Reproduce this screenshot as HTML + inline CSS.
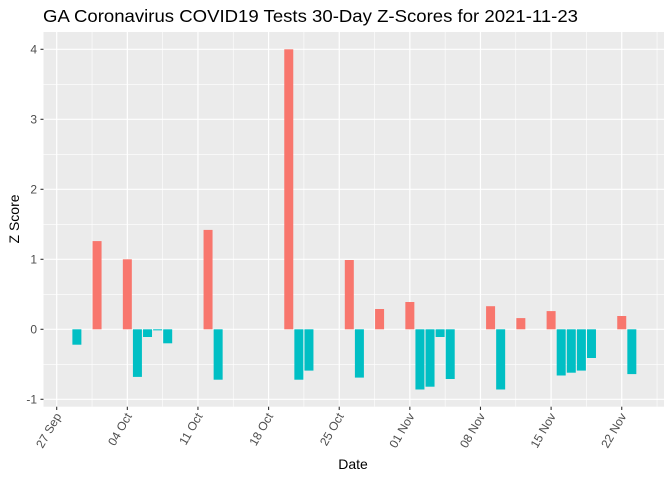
<!DOCTYPE html>
<html><head><meta charset="utf-8"><style>body{margin:0;background:#fff}svg{display:block}</style></head><body>
<svg width="672" height="480" xmlns="http://www.w3.org/2000/svg" font-family="Liberation Sans, sans-serif">
<rect x="0" y="0" width="672" height="480" fill="#fff"/>
<text x="43" y="22" font-size="17.5" textLength="535" lengthAdjust="spacingAndGlyphs" fill="#000">GA Coronavirus COVID19 Tests 30-Day Z-Scores for 2021-11-23</text>
<rect x="43.5" y="32" width="620.5" height="374.7" fill="#ebebeb"/>
<g id="grid"></g>
<g id="bars"></g>
<g id="axes"></g>
<text x="353" y="469" font-size="14" text-anchor="middle" fill="#000">Date</text>
<text transform="translate(19,219) rotate(-90)" font-size="14" text-anchor="middle" fill="#000">Z Score</text>
<script>
var ns="http://www.w3.org/2000/svg";
function el(p,t,a,txt){var e=document.createElementNS(ns,t);for(var k in a)e.setAttribute(k,a[k]);if(txt)e.textContent=txt;document.getElementById(p).appendChild(e);}
var y0=329.3,s=70,x0=56.7,dx=10.09;
for(var v=-0.5;v<=4;v+=1)el("grid","line",{x1:43.5,x2:664,y1:y0-v*s,y2:y0-v*s,stroke:"#fff","stroke-width":0.6});
for(var v=-1;v<=4;v++)el("grid","line",{x1:43.5,x2:664,y1:y0-v*s,y2:y0-v*s,stroke:"#fff","stroke-width":1.2});
for(var w=-0.5;w<=8.5;w+=1){var x=x0+w*7*dx;if(x>43.5&&x<664)el("grid","line",{x1:x,x2:x,y1:32,y2:406.7,stroke:"#fff","stroke-width":0.6});}
var labs=["27 Sep","04 Oct","11 Oct","18 Oct","25 Oct","01 Nov","08 Nov","15 Nov","22 Nov"];
for(var w=0;w<9;w++){var x=x0+w*7*dx;el("grid","line",{x1:x,x2:x,y1:32,y2:406.7,stroke:"#fff","stroke-width":1.2});
el("axes","line",{x1:x,x2:x,y1:406.7,y2:410,stroke:"#333","stroke-width":1.1});
el("axes","text",{transform:"translate("+(x+5)+",416) rotate(-60)","font-size":"12","text-anchor":"end",fill:"#4d4d4d"},labs[w]);}
for(var v=-1;v<=4;v++){el("axes","line",{x1:40.5,x2:43.5,y1:y0-v*s,y2:y0-v*s,stroke:"#333","stroke-width":1.1});
el("axes","text",{x:37,y:y0-v*s+4,"font-size":"12","text-anchor":"end",fill:"#4d4d4d"},v<0?"-1":String(v));}
var d=[[2,-0.22],[4,1.26],[7,1.0],[8,-0.68],[9,-0.11],[10,-0.015],[11,-0.2],[15,1.42],[16,-0.72],[23,4.0],[24,-0.72],[25,-0.59],[29,0.99],[30,-0.69],[32,0.29],[35,0.39],[36,-0.86],[37,-0.82],[38,-0.11],[39,-0.71],[43,0.33],[44,-0.86],[46,0.16],[49,0.26],[50,-0.66],[51,-0.62],[52,-0.59],[53,-0.41],[56,0.19],[57,-0.64]];
d.forEach(function(b){var c=x0+b[0]*dx,h=Math.abs(b[1])*s;el("bars","rect",{x:c-4.5,width:9,y:b[1]>0?y0-h:y0,height:Math.max(h,0.8),fill:b[1]>0?"#f8766d":"#00bfc4"});});
</script>
</svg>
</body></html>
